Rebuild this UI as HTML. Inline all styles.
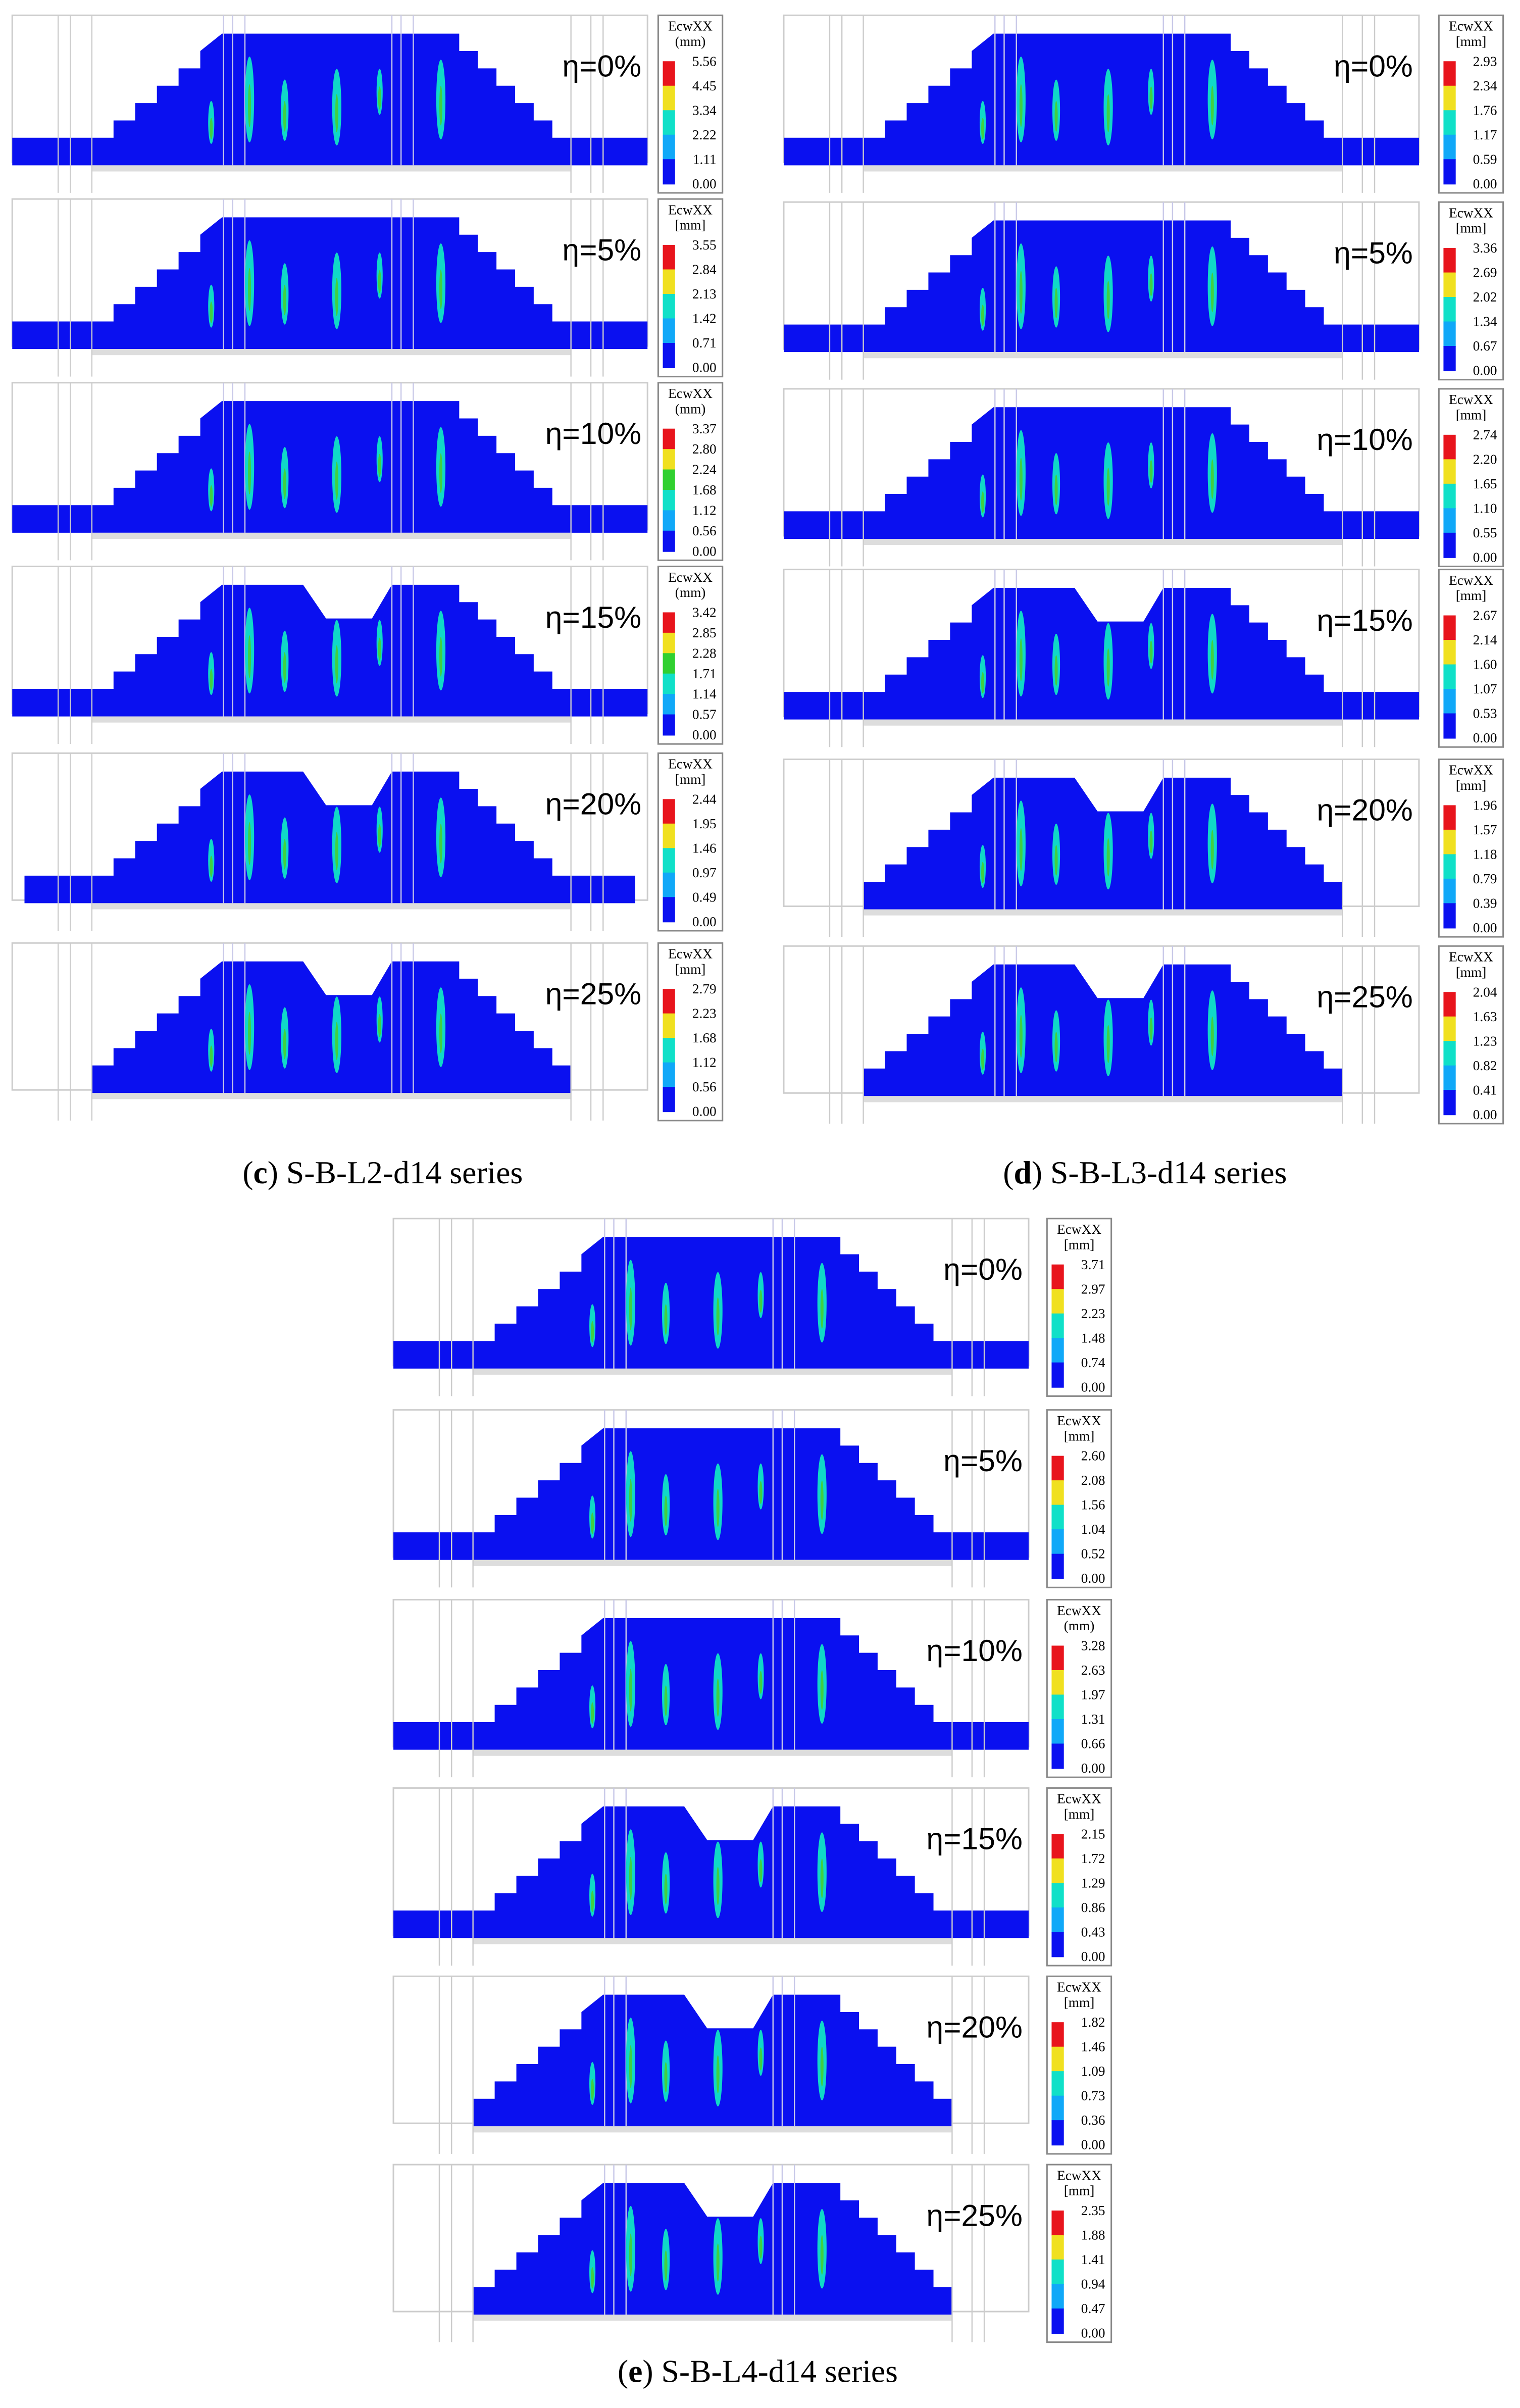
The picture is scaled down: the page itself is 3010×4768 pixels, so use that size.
<!DOCTYPE html>
<html><head><meta charset="utf-8"><style>
html,body{margin:0;padding:0;background:#fff}
svg{display:block}
</style></head><body>
<svg id="fig" width="3010" height="4768" viewBox="0 0 993 1573" preserveAspectRatio="none" xmlns="http://www.w3.org/2000/svg" font-family="Liberation Serif, serif">
<g id="root"></g>
<text x="250" y="773" font-size="21" text-anchor="middle">(<tspan font-weight="bold">c</tspan>) S-B-L2-d14 series</text>
<text x="748" y="773" font-size="21" text-anchor="middle">(<tspan font-weight="bold">d</tspan>) S-B-L3-d14 series</text>
<text x="495" y="1556" font-size="21" text-anchor="middle">(<tspan font-weight="bold">e</tspan>) S-B-L4-d14 series</text>
</svg>
<script>
const etaLabels=["η=0%","η=5%","η=10%","η=15%","η=20%","η=25%"];
const legendC=[[5.56,4.45,3.34,2.22,1.11,0.00],[3.55,2.84,2.13,1.42,0.71,0.00],[3.37,2.80,2.24,1.68,1.12,0.56,0.00],[3.42,2.85,2.28,1.71,1.14,0.57,0.00],[2.44,1.95,1.46,0.97,0.49,0.00],[2.79,2.23,1.68,1.12,0.56,0.00]];
const legendD=[[2.93,2.34,1.76,1.17,0.59,0.00],[3.36,2.69,2.02,1.34,0.67,0.00],[2.74,2.20,1.65,1.10,0.55,0.00],[2.67,2.14,1.60,1.07,0.53,0.00],[1.96,1.57,1.18,0.79,0.39,0.00],[2.04,1.63,1.23,0.82,0.41,0.00]];
const legendE=[[3.71,2.97,2.23,1.48,0.74,0.00],[2.60,2.08,1.56,1.04,0.52,0.00],[3.28,2.63,1.97,1.31,0.66,0.00],[2.15,1.72,1.29,0.86,0.43,0.00],[1.82,1.46,1.09,0.73,0.36,0.00],[2.35,1.88,1.41,0.94,0.47,0.00]];
const unitsC=["(mm)","[mm]","(mm)","(mm)","[mm]","[mm]"];
const columns=[{x:8,lx:430,ys:[10,130,250,370,492,616],leg:legendC,units:unitsC,name:"c"},
 {x:512,lx:940,ys:[10,132,254,372,496,618],leg:legendD,units:["[mm]","[mm]","[mm]","[mm]","[mm]","[mm]"],name:"d"},
 {x:257,lx:684,ys:[796,921,1045,1168,1291,1414],leg:legendE,units:["[mm]","[mm]","(mm)","[mm]","[mm]","[mm]"],name:"e"}];
const NS="http://www.w3.org/2000/svg";
const root=document.getElementById('root');
function mk(tag,attrs,parent){const e=document.createElementNS(NS,tag);for(const k in attrs)e.setAttribute(k,attrs[k]);(parent||root).appendChild(e);return e;}
const colors=["#e8141c","#f0e020","#30d030","#10e0c8","#10a8f8","#0a10f0"];
columns.forEach(col=>{
 col.ys.forEach((y0,i)=>{
  const g=mk('g',{});
  
  
  const x0=col.x,W=415,H=102;
  const fr=mk('rect',{x:x0,y:y0,width:W,height:H-6,fill:'none',stroke:'#ccc','stroke-width':1},g);
  // staircase polygon
  const late=i>=4;
  const bl=late?(col.name==='c'&&i===4?8:52):0, br=late?(col.name==='c'&&i===4?W-8:W-50):W;
  let pts=[[x0+bl,y0+H-4],[x0+bl,y0+H-22]];
  const steps=6,sx0=52,sx1=137,topY=12,baseY=H-22;
  for(let s=0;s<steps;s++){const xx=sx0+(sx1-sx0)*s/steps,yy=baseY-(baseY-topY)*s/steps;
   pts.push([x0+xx,y0+yy+(s===0?0:(baseY-topY)/steps)]);pts.push([x0+xx,y0+yy]);}
  pts.splice(2,0,[x0+sx0,y0+baseY]);
  pts.push([x0+sx1,y0+topY]);
  if(i>=3){pts.push([x0+190,y0+topY]);pts.push([x0+205,y0+topY+22]);pts.push([x0+235,y0+topY+22]);pts.push([x0+248,y0+topY]);}
  pts.push([x0+292,y0+topY]);
  const ex0=292,ex1=365;
  for(let s=0;s<steps;s++){const xx=ex0+(ex1-ex0)*s/steps,yy=topY+(baseY-topY)*s/steps,ny=topY+(baseY-topY)*(s+1)/steps;
   pts.push([x0+xx,y0+yy]);pts.push([x0+xx,y0+ny]);}
  pts.push([x0+ex1,y0+baseY]);pts.push([x0+br,y0+baseY]);pts.push([x0+br,y0+H-4]);
  mk('polygon',{points:pts.map(p=>p.join(',')).join(' '),fill:'#0a10f0'},g);
  mk('rect',{x:x0+52,y:y0+H-4,width:313,height:4,fill:'#ddd'},g);
  // column outlines
  [138,144,152,248,254,262].forEach(cx=>mk('line',{x1:x0+cx,y1:y0,x2:x0+cx,y2:y0+H-4,stroke:'#c8c8e8','stroke-width':0.8},g));
  [30,38,52,365,378,386].forEach(cx=>mk('line',{x1:x0+cx,y1:y0,x2:x0+cx,y2:y0+H+14,stroke:'#ccc','stroke-width':0.8},g));
  // cracks
  [[155,55,3,28],[212,60,3,25],[178,62,2.5,20],[280,55,3,26],[130,70,2,14],[240,50,2,15]].forEach(c=>{
   mk('ellipse',{cx:x0+c[0],cy:y0+c[1],rx:c[2],ry:c[3],fill:'#10d8c8'},g);
   mk('ellipse',{cx:x0+c[0],cy:y0+c[1]+4,rx:1,ry:c[3]*0.5,fill:'#40d040'},g);
  });
  const t=mk('text',{x:x0+W-4,y:y0+40,'font-size':20,'font-family':'Liberation Sans, sans-serif','text-anchor':'end'},g);
  t.textContent=etaLabels[i];
  
  
  // legend
  const lg=mk('g',{});
  
  
  const lx=col.lx,ly=y0;
  mk('rect',{x:lx,y:ly,width:42,height:116,fill:'#fff',stroke:'#888','stroke-width':1},lg);
  const t1=mk('text',{x:lx+21,y:ly+10,'font-size':9,'text-anchor':'middle'},lg);t1.textContent='EcwXX';
  const t2=mk('text',{x:lx+21,y:ly+20,'font-size':9,'text-anchor':'middle'},lg);t2.textContent=col.units[i];
  const vals=col.leg[i];const n=vals.length-1;const top=ly+30,bot=ly+110;
  for(let k=0;k<n;k++){const c=colors[Math.round(k*(colors.length-1)/(n-1||1))];
   mk('rect',{x:lx+3,y:top+(bot-top)*k/n,width:8,height:(bot-top)/n+0.5,fill:c},lg);}
  vals.forEach((v,k)=>{const tt=mk('text',{x:lx+38,y:top+(bot-top)*k/n+3,'font-size':9,'text-anchor':'end'},lg);tt.textContent=v.toFixed(2);});
 });
});
</script>
</body></html>
